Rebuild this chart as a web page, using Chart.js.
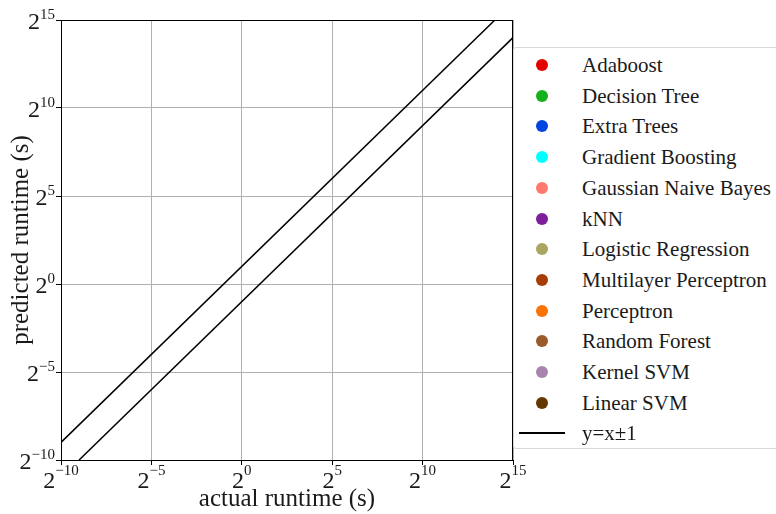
<!DOCTYPE html>
<html><head><meta charset="utf-8">
<script src="https://cdn.jsdelivr.net/npm/chart.js@4/dist/chart.umd.min.js"></script>
<style>
html,body{margin:0;padding:0;background:#fff;overflow:hidden;}
#wrap{position:relative;width:776px;height:514px;}
#legend{position:absolute;left:513px;top:47px;width:275px;height:402px;border:1px solid #d8d8d8;border-radius:3px;background:#fff;box-sizing:border-box;font-family:"Liberation Serif",serif;font-size:21px;color:#1a1a1a;}
.row{position:absolute;left:0;height:30px;line-height:30px;white-space:nowrap;}
.dot{position:absolute;left:22px;top:9px;width:12px;height:12px;border-radius:50%;}
.ln{position:absolute;left:5px;top:14px;width:46px;height:2px;background:#000;}
.lab{position:absolute;left:68px;top:0;}
</style></head><body>
<div id="wrap"><canvas id="c" width="776" height="514"></canvas><div id="legend"></div></div>
<script>
// classifiers (no points plotted in the reference, only legend entries)
const classifiers = ["Adaboost","Decision Tree","Extra Trees","Gradient Boosting","Gaussian Naive Bayes","kNN","Logistic Regression","Multilayer Perceptron","Perceptron","Random Forest","Kernel SVM","Linear SVM"];
const classifierColors = ["#e50000","#15b01a","#0343df","#00ffff","#ff796c","#7e1e9c","#aaa662","#a83c09","#f97306","#9a5a2a","#a884ae","#653700"];
// log2 axis tick exponents
const tickExponents = [-10,-5,0,5,10,15];
// reference lines y = x ± 1 (log2 space)
const upperX = [-10, 14];
const upperY = [-9, 15];
const lowerX = [-9, 15];
const lowerY = [-10, 14];

const expText = v => String(v).replace("-", "\u2212");

const datasets = classifiers.map((n,i)=>({label:n,type:"scatter",data:[],backgroundColor:classifierColors[i],pointRadius:6}));
datasets.push({label:"y=x±1",type:"line",data:upperX.map((x,i)=>({x,y:upperY[i]})),borderColor:"#000",borderWidth:1.5,pointRadius:0,fill:false});
datasets.push({label:"_lower",type:"line",data:lowerX.map((x,i)=>({x,y:lowerY[i]})),borderColor:"#000",borderWidth:1.5,pointRadius:0,fill:false});

const BASE = "24px 'Liberation Serif', serif", EXP = "15px 'Liberation Serif', serif";
const frame = {id:"frame",afterDatasetsDraw(ch){const a=ch.chartArea,c=ch.ctx;c.save();c.strokeStyle="#000";c.lineWidth=1;c.strokeRect(a.left+0.5,a.top+0.5,a.right-a.left-1,a.bottom-a.top);c.restore();}};
const powLabels = {id:"powLabels",afterDraw(ch){
  const c=ch.ctx,a=ch.chartArea;c.save();c.fillStyle="#1a1a1a";c.textBaseline="alphabetic";c.textAlign="left";
  const xs=ch.scales.x, ys=ch.scales.y;
  xs.ticks.forEach(t=>{
    const px=xs.getPixelForValue(t.value), e=expText(t.value);
    c.font=BASE;const wb=c.measureText("2").width;c.font=EXP;const we=c.measureText(e).width;
    const x0=px-(wb+we)/2, base=a.bottom+28;
    c.font=BASE;c.fillText("2",x0,base);c.font=EXP;c.fillText(e,x0+wb,base-13);
  });
  ys.ticks.forEach(t=>{
    const py=ys.getPixelForValue(t.value), e=expText(t.value);
    c.font=BASE;const wb=c.measureText("2").width;c.font=EXP;const we=c.measureText(e).width;
    const x1=a.left-6, base=py+9;
    c.font=BASE;c.fillText("2",x1-we-wb,base);c.font=EXP;c.fillText(e,x1-we,base-10);
  });
  c.restore();}};
const tfont = {family:"'Liberation Serif', serif", size:25};
new Chart(document.getElementById("c"),{
  type:"scatter",
  data:{datasets},
  options:{responsive:false,animation:false,
    layout:{padding:{top:20,right:263,left:0,bottom:0}},
    plugins:{legend:{display:false},tooltip:{enabled:false}},
    scales:{
      x:{type:"linear",min:-10,max:15,
        afterBuildTicks:s=>{s.ticks=tickExponents.map(v=>({value:v}));},
        afterFit:s=>{s.height=54;},
        ticks:{display:false},
        grid:{color:"#b0b0b0",tickColor:"#000",tickLength:5},
        border:{color:"#000"},
        title:{display:true,text:"actual runtime (s)",font:tfont,color:"#1a1a1a",padding:{top:0,bottom:0}}},
      y:{type:"linear",min:-10,max:15,
        afterBuildTicks:s=>{s.ticks=tickExponents.map(v=>({value:v}));},
        afterFit:s=>{s.width=61;},
        ticks:{display:false},
        grid:{color:"#b0b0b0",tickColor:"#000",tickLength:5},
        border:{color:"#000"},
        title:{display:true,text:"predicted runtime (s)",font:tfont,color:"#1a1a1a",padding:{top:6,bottom:0}}}
    }},
  plugins:[frame,powLabels]
});
const lg=document.getElementById("legend");
datasets.filter(d=>!d.label.startsWith("_")).forEach((d,i)=>{
  const r=document.createElement("div");r.className="row";r.style.top=(2+i*30.7)+"px";
  const m=document.createElement("div");
  if(d.type==="line"){m.className="ln";}else{m.className="dot";m.style.background=d.backgroundColor;}
  const t=document.createElement("span");t.className="lab";t.textContent=d.label;
  r.appendChild(m);r.appendChild(t);lg.appendChild(r);
});
</script></body></html>
